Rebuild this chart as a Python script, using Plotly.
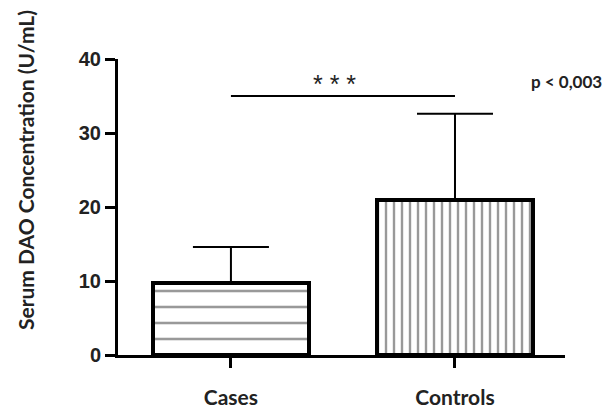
import plotly.graph_objects as go

categories = ["Cases", "Controls"]
means = [9.7, 20.9]
sd_upper = [4.9, 11.7]
sd_lower = [0, 0]
bracket_y = 35
stars = "* * *"
p_text = "p < 0,003"
y_ticks = [0, 10, 20, 30, 40]

fig = go.Figure()
patterns = [dict(shape="-", size=16, solidity=0.16, fgcolor="#333", bgcolor="white"),
            dict(shape="|", size=8, solidity=0.3, fgcolor="#333", bgcolor="white")]
for i, c in enumerate(categories):
    fig.add_trace(go.Bar(
        x=[c], y=[means[i]], width=0.696,
        marker=dict(color="white", pattern=patterns[i], line=dict(color="black", width=4)),
        error_y=dict(type="data", symmetric=False, array=[sd_upper[i]], arrayminus=[sd_lower[i]],
                     color="black", thickness=2, width=38),
        showlegend=False,
    ))

fig.add_shape(type="line", xref="x", yref="y", x0=0, x1=1, y0=bracket_y, y1=bracket_y,
              line=dict(color="black", width=2))
fig.add_annotation(x=0.464, y=36.6, xref="x", yref="y", text=stars, showarrow=False,
                   xanchor="center", yanchor="middle",
                   font=dict(family="Liberation Sans", size=25, color="#222"))
fig.add_annotation(x=1.004, y=36.9, xref="paper", yref="y", text=p_text, showarrow=False,
                   xanchor="center", yanchor="middle",
                   font=dict(family="Lato", size=17, color="#222", weight="bold"))
fig.add_annotation(x=-0.208, y=0.625, xref="paper", yref="paper", text="Serum DAO Concentration (U/mL)",
                   textangle=-90, showarrow=False, xanchor="center", yanchor="middle",
                   font=dict(family="Lato", size=21, color="#222", weight="bold"))

fig.update_layout(
    width=610, height=408,
    margin=dict(l=110, r=53, t=51, b=61),
    paper_bgcolor="white", plot_bgcolor="white",
    bargap=0,
)
fig.update_xaxes(type="category", range=[-0.504, 1.491], showline=True, linewidth=3, linecolor="black",
                 ticks="outside", ticklen=10, tickwidth=3, tickcolor="black", showgrid=False,
                 ticklabelstandoff=12, automargin=False,
                 tickfont=dict(family="Lato", size=21, color="#222", weight="bold"))
fig.update_yaxes(range=[0, 40], tickvals=y_ticks, showline=True, linewidth=3, linecolor="black",
                 ticks="outside", ticklen=10, tickwidth=3, tickcolor="black", showgrid=False,
                 zeroline=False, automargin=False,
                 tickfont=dict(family="Liberation Sans", size=20, color="#222", weight="bold"))

fig.write_html("out.html")
